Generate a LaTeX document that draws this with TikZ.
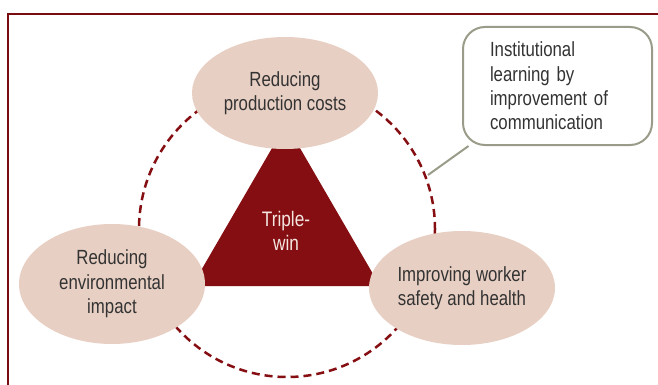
\documentclass[tikz,border=0pt]{standalone}
\usepackage{fontspec}
\setmainfont{Liberation Sans}[FakeStretch=0.82]
\usetikzlibrary{shapes.geometric}
\definecolor{maroon}{RGB}{133,14,18}
\definecolor{blush}{RGB}{232,207,195}
\definecolor{sage}{RGB}{155,155,138}
\definecolor{ink}{RGB}{51,51,51}
\tikzset{goal/.style={ellipse,fill=blush,minimum width=186pt,minimum height=112pt,inner sep=0pt,align=center,text=ink,font=\fontsize{20.5}{24.5}\selectfont}}

\begin{document}
\begin{tikzpicture}[x=1pt,y=-1pt]
  \useasboundingbox (0,0) rectangle (658,385);
  % frame
  \draw[maroon!90!black,line width=1.5pt] (8,385) -- (8,14) -- (658,14);
  % dashed cycle
  \draw[maroon,line width=2.5pt,dash pattern=on 8pt off 5pt] (287,229) circle[radius=148];
  % triangle
  \fill[maroon] (286,124) -- (192,286) -- (380,286) -- cycle;
  \node[align=center,text=blush!50!white,font=\fontsize{21}{24.5}\selectfont] (win) at (286,231) {Triple-\\win};
  % goals
  \node[goal] (costs) at (285,93) {Reducing\\production costs};
  \node[goal,minimum height=120pt] (impact) at (112,284) {Reducing\\environmental\\impact};
  \node[goal,minimum height=114pt] (safety) at (462,288) {Improving worker\\safety and health};
  % callout
  \node[draw=sage,line width=2pt,rounded corners=22pt,text width=135pt,minimum height=118pt,inner xsep=27pt,align=left,text=ink,font=\fontsize{20.5}{24.3}\selectfont] (learn) at (557.5,86) {Institutional\\learning by\\improvement of\\communication};
  \coordinate (tip) at (428,175);
  \draw[sage,line width=2pt] (learn.214) -- (tip);
\end{tikzpicture}
\end{document}
